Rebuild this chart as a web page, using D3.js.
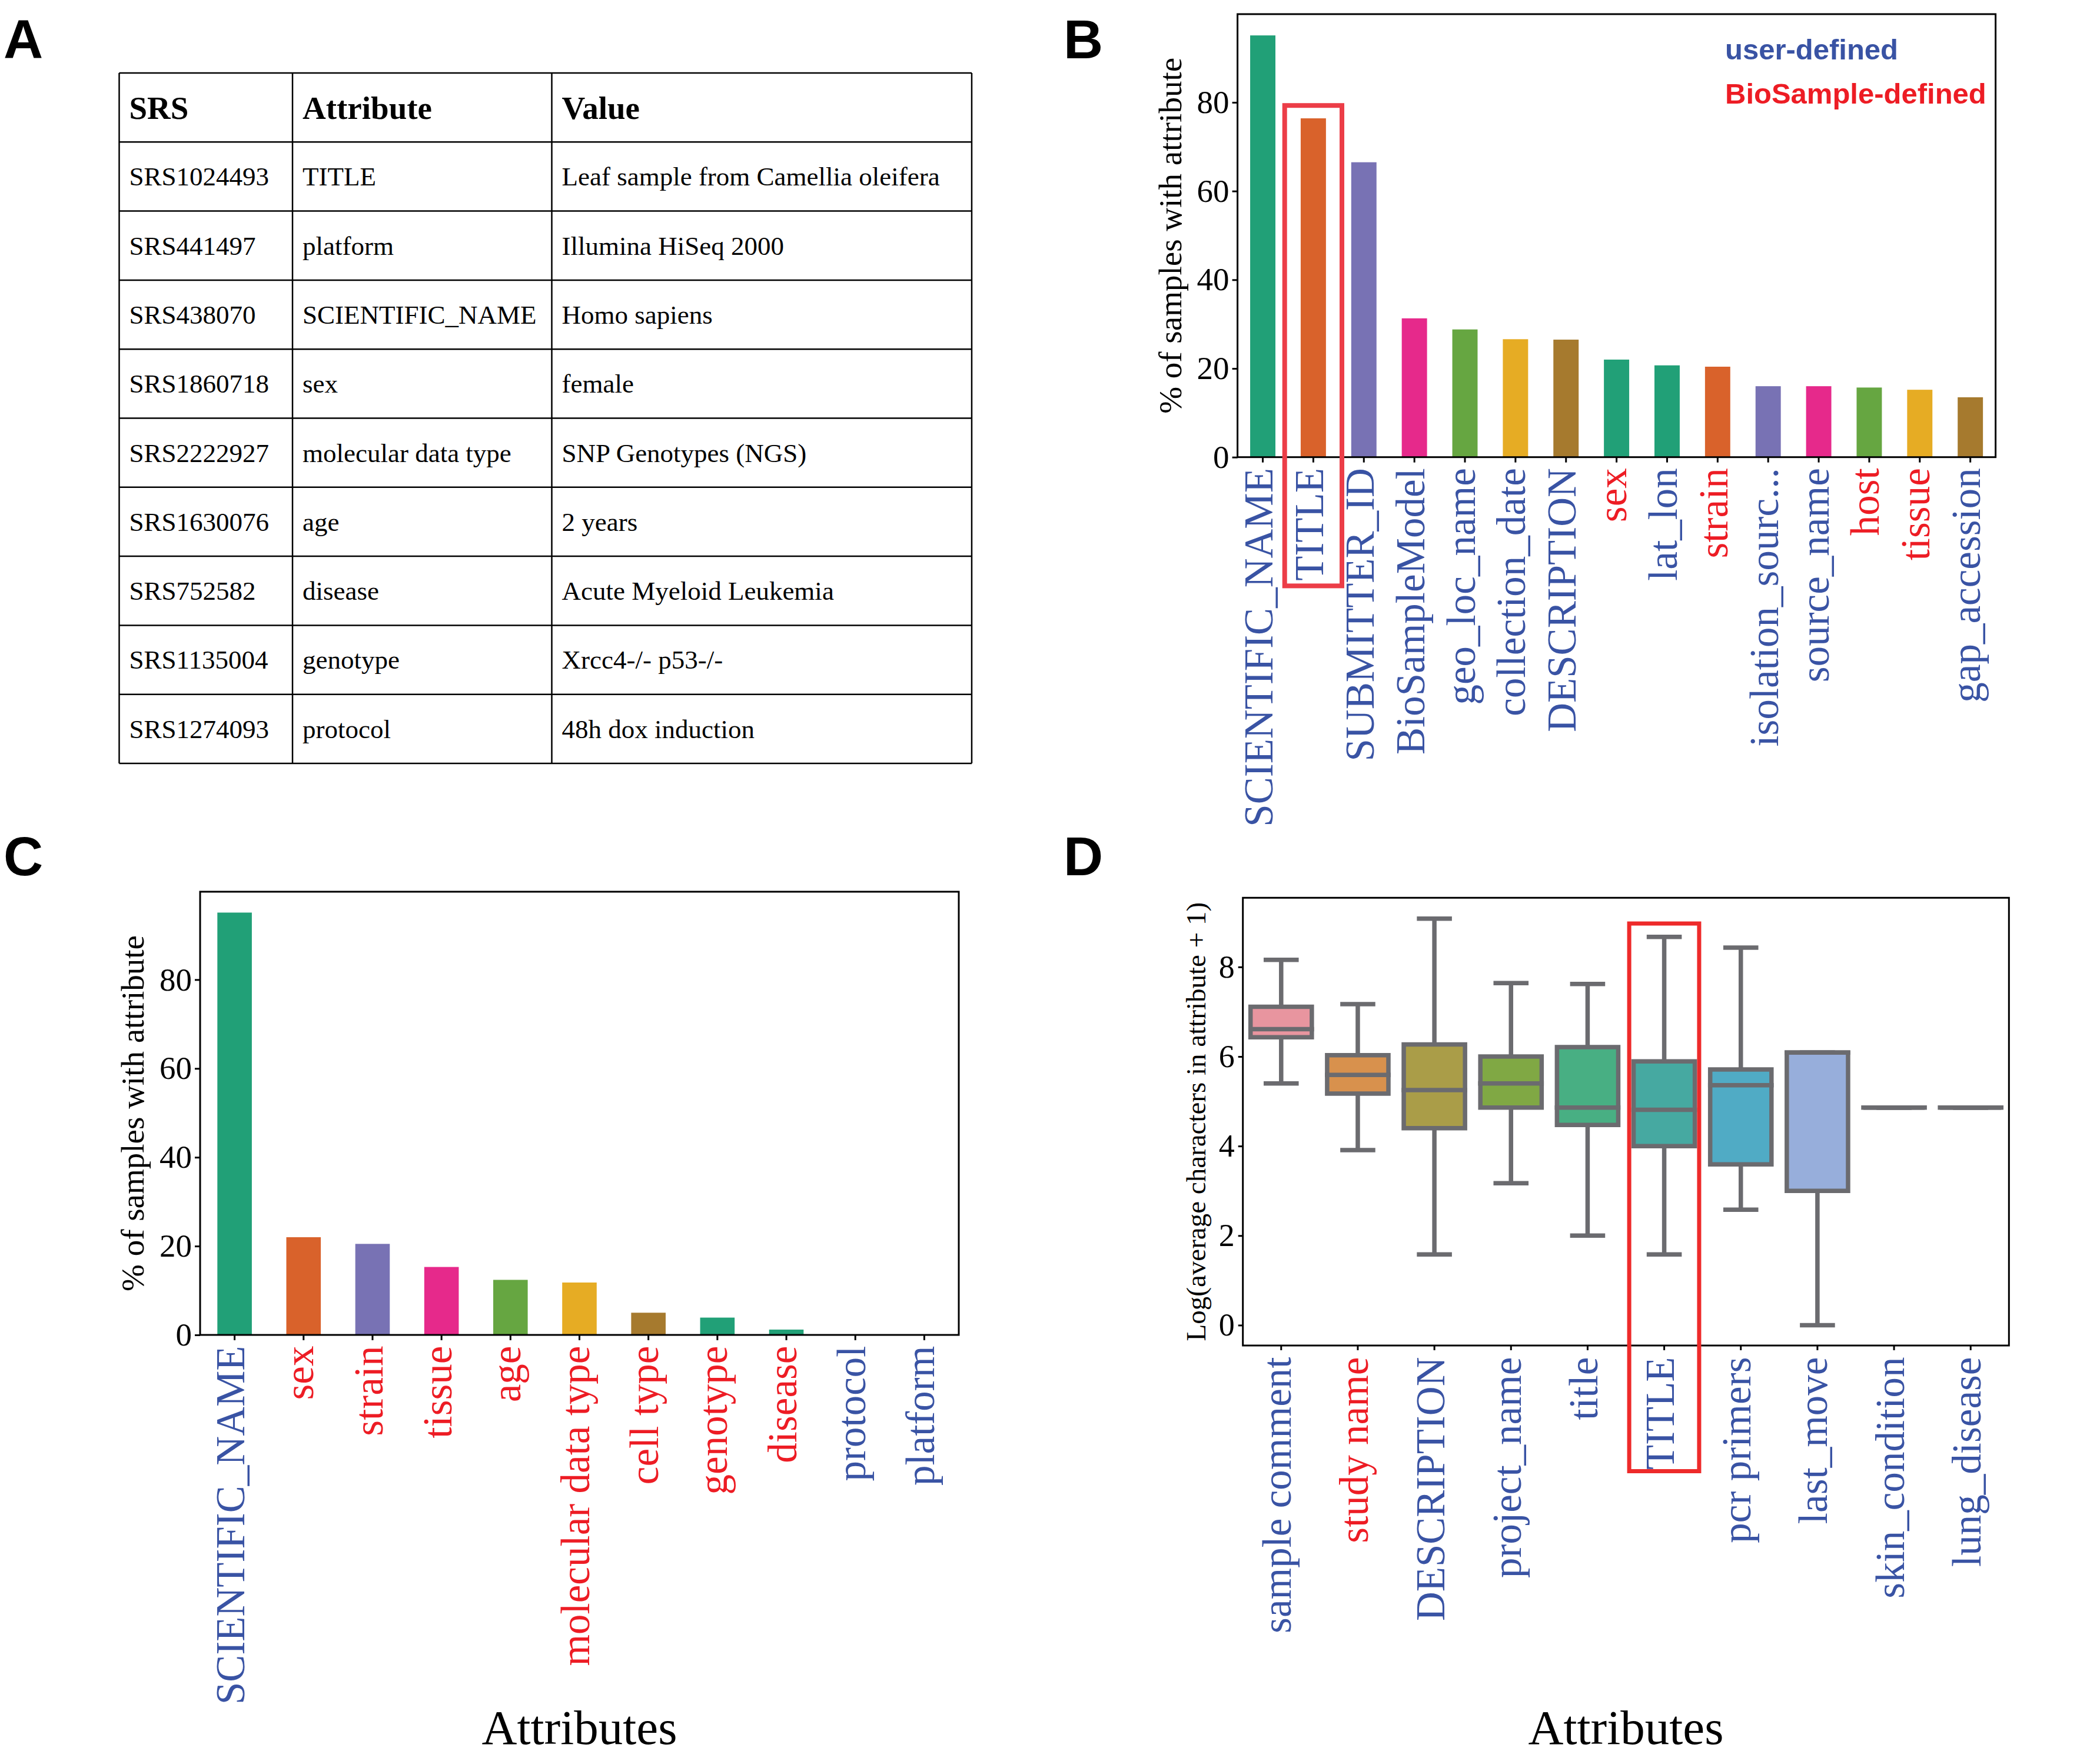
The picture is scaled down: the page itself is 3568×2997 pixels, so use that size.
<!DOCTYPE html>
<html>
<head>
<meta charset="utf-8">
<script src="https://cdn.jsdelivr.net/npm/d3@7"></script>
<style>
  body { margin: 0; background: #fff; }
  svg { display: block; }
</style>
</head>
<body>
<svg id="fig" width="3568" height="2997"></svg>
<script>
// ---- data ----
var tableHeader = ["SRS", "Attribute", "Value"];
var tableSRS = ["SRS1024493", "SRS441497", "SRS438070", "SRS1860718", "SRS2222927",
                "SRS1630076", "SRS752582", "SRS1135004", "SRS1274093"];
var tableAttribute = ["TITLE", "platform", "SCIENTIFIC_NAME", "sex", "molecular data type",
                      "age", "disease", "genotype", "protocol"];
var tableValue = ["Leaf sample from Camellia oleifera", "Illumina HiSeq 2000", "Homo sapiens",
                  "female", "SNP Genotypes (NGS)", "2 years", "Acute Myeloid Leukemia",
                  "Xrcc4-/- p53-/-", "48h dox induction"];

var bAttributes = ["SCIENTIFIC_NAME", "TITLE", "SUBMITTER_ID", "BioSampleModel", "geo_loc_name",
                   "collection_date", "DESCRIPTION", "sex", "lat_lon", "strain",
                   "isolation_sourc...", "source_name", "host", "tissue", "gap_accession"];
var bPercent = [95.1, 76.4, 66.5, 31.3, 28.8, 26.6, 26.5, 22.0, 20.7, 20.4, 16.0, 16.0, 15.7, 15.2, 13.5];
var bSource = ["user", "user", "user", "user", "user", "user", "user", "biosample", "user",
               "biosample", "user", "user", "biosample", "biosample", "user"];

var cAttributes = ["SCIENTIFIC_NAME", "sex", "strain", "tissue", "age", "molecular data type",
                   "cell type", "genotype", "disease", "protocol", "platform"];
var cPercent = [95.1, 22.0, 20.5, 15.3, 12.4, 11.8, 5.0, 3.9, 1.2, 0, 0];
var cSource = ["user", "biosample", "biosample", "biosample", "biosample", "biosample",
               "biosample", "biosample", "biosample", "user", "user"];

var dAttributes = ["sample comment", "study name", "DESCRIPTION", "project_name", "title",
                   "TITLE", "pcr primers", "last_move", "skin_condition", "lung_disease"];
var dSource = ["user", "biosample", "user", "user", "user", "user", "user", "user", "user", "user"];
var dWhiskerLow  = [5.40, 3.91, 1.58, 3.17, 2.00, 1.58, 2.58, 0.00, 4.86, 4.86];
var dQ1          = [6.43, 5.17, 4.40, 4.86, 4.47, 4.00, 3.59, 3.00, 4.86, 4.86];
var dMedian      = [6.61, 5.59, 5.25, 5.40, 4.86, 4.81, 5.36, 6.09, 4.86, 4.86];
var dQ3          = [7.11, 6.03, 6.27, 6.00, 6.21, 5.89, 5.71, 6.09, 4.86, 4.86];
var dWhiskerHigh = [8.16, 7.17, 9.08, 7.64, 7.62, 8.67, 8.43, 6.09, 4.86, 4.86];

var pctTicks = [0, 20, 40, 60, 80];
var logTicks = [0, 2, 4, 6, 8];

// ---- style ----
var serif = "'Liberation Serif','Times New Roman',serif";
var sansBold = "'Liberation Sans',Arial,sans-serif";
var BLUE = "#3953a4", RED = "#ed1c24";
var barPalette = ["#21a077", "#d9622b", "#7872b4", "#e6298b", "#66a641", "#e6ac24", "#a67a2e",
                  "#21a077", "#21a077", "#d9622b", "#7872b4", "#e6298b", "#66a641", "#e6ac24", "#a67a2e"];
var boxPalette = ["#e8959f", "#d8914d", "#aa9d48", "#80a844", "#48af83", "#46a9a1", "#50abc5",
                  "#97aedb", "#a3a6dc", "#c59ad6"];
var boxLine = "#6b6b6f";
var srcColor = function(s) { return s === "biosample" ? RED : BLUE; };

var svg = d3.select("#fig");

// panel letters
[["A", 6, 98], ["B", 1807, 99], ["C", 6, 1487], ["D", 1807, 1487]].forEach(function(p) {
  svg.append("text").text(p[0])
    .attr("x", p[1]).attr("y", p[2])
    .attr("font-family", sansBold).attr("font-weight", 700).attr("font-size", 93);
});

// ---- A: table ----
var tRows = d3.range(tableSRS.length + 1);
var rowY = d3.scaleBand().domain(tRows).range([124, 1297]);
var colX = [202.5, 497, 937.5, 1651];
var gA = svg.append("g");

gA.selectAll("line.h").data(d3.range(tRows.length + 1)).enter().append("line")
  .attr("x1", colX[0]).attr("x2", colX[3])
  .attr("y1", function(d) { return d < tRows.length ? rowY(d) : rowY.range()[1]; })
  .attr("y2", function(d) { return d < tRows.length ? rowY(d) : rowY.range()[1]; })
  .attr("stroke", "#000").attr("stroke-width", 2.5);
gA.selectAll("line.v").data(colX).enter().append("line")
  .attr("x1", function(d) { return d; }).attr("x2", function(d) { return d; })
  .attr("y1", rowY.range()[0]).attr("y2", rowY.range()[1])
  .attr("stroke", "#000").attr("stroke-width", 2.5);

gA.selectAll("text.head").data(tableHeader).enter().append("text")
  .attr("x", function(d, i) { return colX[i] + 17; })
  .attr("y", rowY(0) + 78)
  .attr("font-family", serif).attr("font-weight", 700).attr("font-size", 55)
  .text(function(d) { return d; });

var tableCells = [];
tableSRS.forEach(function(s, i) {
  tableCells.push({ row: i + 1, col: 0, text: s });
  tableCells.push({ row: i + 1, col: 1, text: tableAttribute[i] });
  tableCells.push({ row: i + 1, col: 2, text: tableValue[i] });
});
gA.selectAll("text.cell").data(tableCells).enter().append("text")
  .attr("x", function(d) { return colX[d.col] + 17; })
  .attr("y", function(d) { return rowY(d.row) + 74; })
  .attr("font-family", serif).attr("font-size", 45)
  .text(function(d) { return d.text; });

// ---- bar panels (B, C) ----
function barPanel(cfg) {
  var g = svg.append("g");
  var x = d3.scaleBand().domain(cfg.cats).range([cfg.left, cfg.right])
            .paddingInner(0.5).paddingOuter(0.25);
  var y = d3.scaleLinear().domain([0, cfg.yMax]).range([cfg.bottom, cfg.top]);

  g.selectAll("rect.bar").data(cfg.values).enter().append("rect")
    .attr("x", function(d, i) { return x(cfg.cats[i]); })
    .attr("y", function(d) { return y(d); })
    .attr("width", x.bandwidth())
    .attr("height", function(d) { return y(0) - y(d); })
    .attr("fill", function(d, i) { return barPalette[i]; });

  var ya = g.append("g").attr("transform", "translate(" + cfg.left + ",0)")
    .call(d3.axisLeft(y).tickValues(pctTicks).tickSize(9).tickPadding(5));
  ya.select(".domain").remove();
  ya.selectAll("line").attr("stroke-width", 3);
  ya.selectAll("text").attr("font-family", serif).attr("font-size", 55);

  var xa = g.append("g").attr("transform", "translate(0," + cfg.bottom + ")")
    .call(d3.axisBottom(x).tickSize(9));
  xa.select(".domain").remove();
  xa.selectAll("line").attr("stroke-width", 3);
  xa.selectAll("text")
    .attr("transform", "rotate(-90)")
    .attr("text-anchor", "end")
    .attr("x", -18.5).attr("y", 0).attr("dy", "0.24em")
    .attr("font-family", serif).attr("font-size", 69)
    .attr("fill", function(d, i) { return srcColor(cfg.source[i]); });

  g.append("text").text("% of samples with attribute")
    .attr("transform", "translate(" + cfg.labelX + "," + (cfg.top + cfg.bottom) / 2 + ") rotate(-90)")
    .attr("text-anchor", "middle")
    .attr("font-family", serif).attr("font-size", 55);

  g.append("rect")
    .attr("x", cfg.left).attr("y", cfg.top)
    .attr("width", cfg.right - cfg.left).attr("height", cfg.bottom - cfg.top)
    .attr("fill", "none").attr("stroke", "#000").attr("stroke-width", 3);

  return { g: g, x: x, y: y };
}

var pB = barPanel({ cats: bAttributes, values: bPercent, source: bSource,
                    left: 2102.6, right: 3390.6, top: 24, bottom: 776.7, yMax: 99.9, labelX: 2007 });
var pC = barPanel({ cats: cAttributes, values: cPercent, source: cSource,
                    left: 340, right: 1629, top: 1515, bottom: 2268, yMax: 99.8, labelX: 244 });

// B legend
pB.g.append("text").text("user-defined")
  .attr("x", 2931).attr("y", 101)
  .attr("font-family", sansBold).attr("font-weight", 700).attr("font-size", 49).attr("fill", BLUE);
pB.g.append("text").text("BioSample-defined")
  .attr("x", 2931).attr("y", 176)
  .attr("font-family", sansBold).attr("font-weight", 700).attr("font-size", 49).attr("fill", RED);

// B highlight around TITLE
var stepB = pB.x.step();
var cxB = pB.x("TITLE") + pB.x.bandwidth() / 2;
pB.g.append("rect")
  .attr("x", cxB - 0.567 * stepB).attr("width", 1.133 * stepB)
  .attr("y", pB.y(79.3)).attr("height", 995.4 - pB.y(79.3))
  .attr("fill", "none").attr("stroke", "#ec3d47").attr("stroke-width", 8);

// C x label
svg.append("text").text("Attributes")
  .attr("x", (340 + 1629) / 2).attr("y", 2963)
  .attr("text-anchor", "middle").attr("font-family", serif).attr("font-size", 83);

// ---- D: box plot ----
(function() {
  var left = 2111.7, right = 3413.3, top = 1525.3, bottom = 2286;
  var g = svg.append("g");
  var x = d3.scaleBand().domain(dAttributes).range([left, right])
            .paddingInner(0.2).paddingOuter(0.1);
  var y = d3.scaleLinear().domain([-0.4545, 9.545]).range([bottom, top]);
  var bw = x.bandwidth();
  var lw = 7.5;

  var boxes = dAttributes.map(function(a, i) {
    return { name: a, cx: x(a) + bw / 2, lo: dWhiskerLow[i], q1: dQ1[i], med: dMedian[i],
             q3: dQ3[i], hi: dWhiskerHigh[i], color: boxPalette[i] };
  });

  var bx = g.selectAll("g.box").data(boxes).enter().append("g");
  // whiskers
  bx.append("line")
    .attr("x1", function(d) { return d.cx; }).attr("x2", function(d) { return d.cx; })
    .attr("y1", function(d) { return y(d.hi); }).attr("y2", function(d) { return y(d.q3); })
    .attr("stroke", boxLine).attr("stroke-width", lw);
  bx.append("line")
    .attr("x1", function(d) { return d.cx; }).attr("x2", function(d) { return d.cx; })
    .attr("y1", function(d) { return y(d.q1); }).attr("y2", function(d) { return y(d.lo); })
    .attr("stroke", boxLine).attr("stroke-width", lw);
  // caps
  ["hi", "lo"].forEach(function(k) {
    bx.append("line")
      .attr("x1", function(d) { return d.cx - bw / 4; }).attr("x2", function(d) { return d.cx + bw / 4; })
      .attr("y1", function(d) { return y(d[k]); }).attr("y2", function(d) { return y(d[k]); })
      .attr("stroke", boxLine).attr("stroke-width", lw).attr("stroke-linecap", "square");
  });
  // box
  bx.append("path")
    .attr("d", function(d) {
      var x0 = d.cx - bw / 2, x1 = d.cx + bw / 2;
      return "M" + x0 + "," + y(d.q3) + "H" + x1 + "V" + y(d.q1) + "H" + x0 + "Z";
    })
    .attr("fill", function(d) { return d.color; })
    .attr("stroke", boxLine).attr("stroke-width", lw).attr("stroke-linejoin", "miter");
  // median
  bx.append("line")
    .attr("x1", function(d) { return d.cx - bw / 2; }).attr("x2", function(d) { return d.cx + bw / 2; })
    .attr("y1", function(d) { return y(d.med); }).attr("y2", function(d) { return y(d.med); })
    .attr("stroke", boxLine).attr("stroke-width", lw).attr("stroke-linecap", "square");

  var ya = g.append("g").attr("transform", "translate(" + left + ",0)")
    .call(d3.axisLeft(y).tickValues(logTicks).tickSize(8).tickPadding(6));
  ya.select(".domain").remove();
  ya.selectAll("line").attr("stroke-width", 3);
  ya.selectAll("text").attr("font-family", serif).attr("font-size", 54);

  var xa = g.append("g").attr("transform", "translate(0," + bottom + ")")
    .call(d3.axisBottom(x).tickSize(8));
  xa.select(".domain").remove();
  xa.selectAll("line").attr("stroke-width", 3);
  xa.selectAll("text")
    .attr("transform", "rotate(-90)")
    .attr("text-anchor", "end")
    .attr("x", -19.5).attr("y", 0).attr("dy", "0.24em")
    .attr("font-family", serif).attr("font-size", 69)
    .attr("fill", function(d, i) { return srcColor(dSource[i]); });

  g.append("text").text("Log(average characters in attribute + 1)")
    .attr("transform", "translate(2048," + (top + bottom) / 2 + ") rotate(-90)")
    .attr("text-anchor", "middle")
    .attr("font-family", serif).attr("font-size", 47);

  g.append("rect")
    .attr("x", left).attr("y", top).attr("width", right - left).attr("height", bottom - top)
    .attr("fill", "none").attr("stroke", "#000").attr("stroke-width", 3);

  // highlight around TITLE
  var step = x.step();
  var cx = x("TITLE") + bw / 2;
  g.append("rect")
    .attr("x", cx - 0.457 * step).attr("width", 0.913 * step)
    .attr("y", y(8.97)).attr("height", 2499.5 - y(8.97))
    .attr("fill", "none").attr("stroke", "#ee2a2a").attr("stroke-width", 7);

  g.append("text").text("Attributes")
    .attr("x", (left + right) / 2).attr("y", 2963)
    .attr("text-anchor", "middle").attr("font-family", serif).attr("font-size", 83);
})();
</script>
</body>
</html>
